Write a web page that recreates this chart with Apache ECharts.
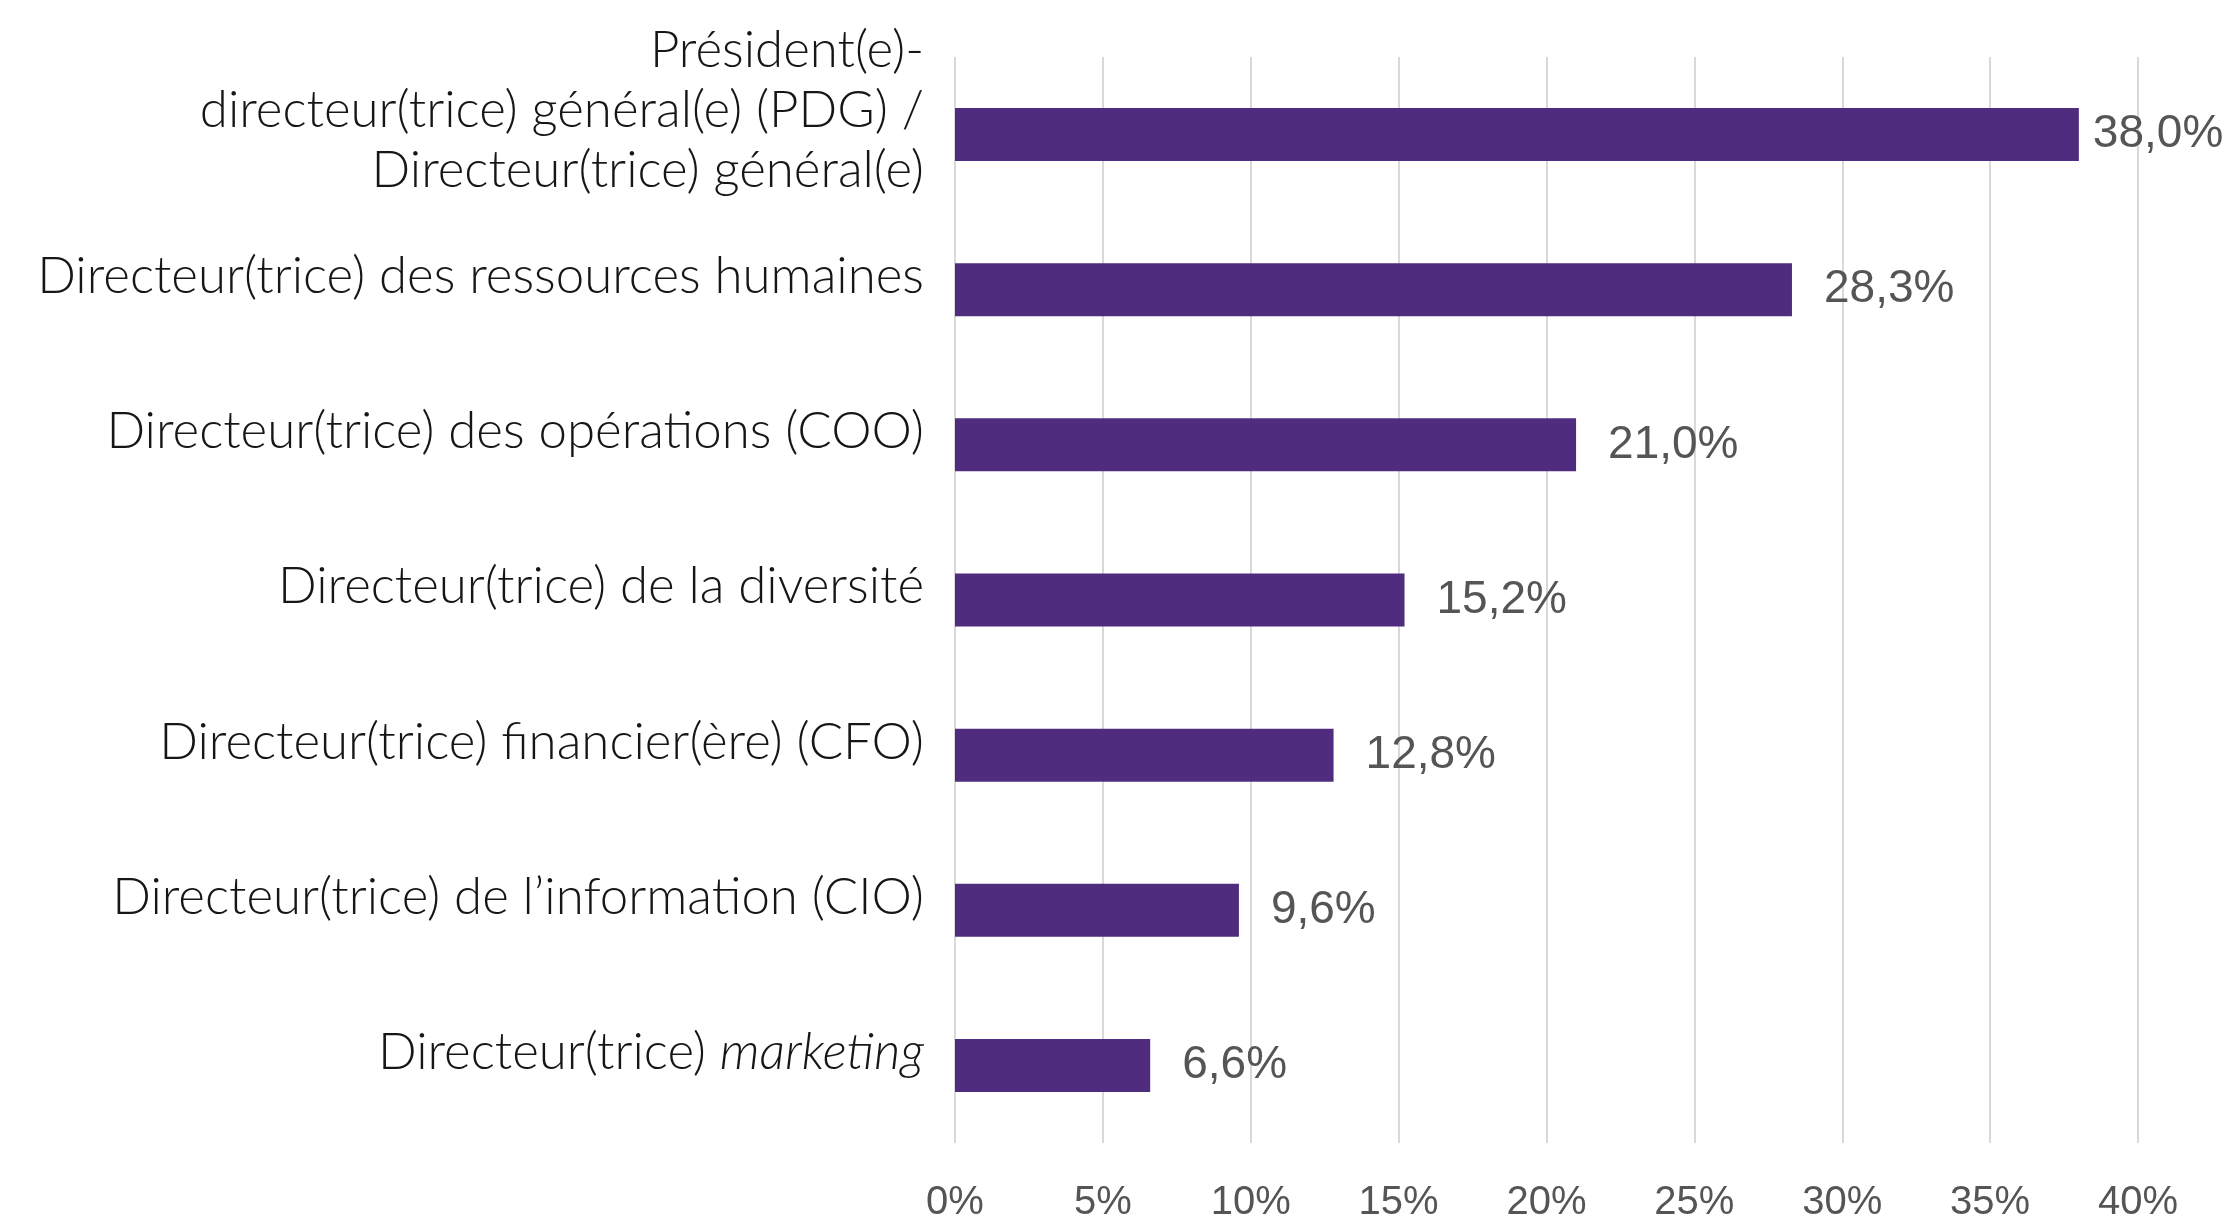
<!DOCTYPE html>
<html>
<head>
<meta charset="utf-8">
<style>
  html, body { margin: 0; padding: 0; background: #ffffff; }
  #chart { width: 2229px; height: 1223px; }
</style>
<script src="https://cdn.jsdelivr.net/npm/echarts@6/dist/echarts.min.js"></script>
</head>
<body>
<div id="chart"></div>
<script>
// Roles, top to bottom
const roles = [
  'Président(e)-\ndirecteur(trice) général(e) (PDG) /\nDirecteur(trice) général(e)',
  'Directeur(trice) des ressources humaines',
  'Directeur(trice) des opérations (COO)',
  'Directeur(trice) de la diversité',
  'Directeur(trice) financier(ère) (CFO)',
  'Directeur(trice) de l’information (CIO)',
  'Directeur(trice) marketing'
];
// Share of respondents, in percent
const shares = [38.0, 28.3, 21.0, 15.2, 12.8, 9.6, 6.6];
// Horizontal axis ticks, in percent
const tickMin = 0;
const tickMax = 40;
const tickStep = 5;

const fmtPct = v => v.toFixed(1).replace('.', ',') + '%';

const chart = echarts.init(document.getElementById('chart'));

const labelFont = 'Lato, "Noto Sans", sans-serif';

// Role label text: "marketing" in italics; multi-line labels get a short
// spacer line underneath so they sit a little higher than their bar.
function roleLabel(s) {
  let out = s.replace(/ marketing$/, ' {i|marketing}');
  if (s.indexOf('\n') >= 0) out += '\n{s| }';
  return out;
}

const barData = shares.map((v, i) => {
  const item = { value: v };
  // the longest bar runs close to the right edge, so its label sits tighter
  if (i === 0) item.label = { distance: 14 };
  return item;
});

chart.setOption({
  animation: false,
  backgroundColor: '#ffffff',
  grid: { left: 955, right: 91, top: 57, bottom: 79, containLabel: false },
  xAxis: {
    type: 'value',
    min: tickMin,
    max: tickMax,
    interval: tickStep,
    axisLine: { show: false },
    axisTick: { show: false },
    splitLine: { show: true, lineStyle: { color: '#d9d9d9', width: 2 } },
    axisLabel: {
      formatter: '{value}%',
      color: '#555555',
      fontFamily: '"Liberation Sans", Arial, sans-serif',
      fontSize: 40,
      margin: 40
    }
  },
  yAxis: {
    type: 'category',
    data: roles,
    inverse: true,
    axisLine: { show: false },
    axisTick: { show: false },
    splitLine: { show: false },
    axisLabel: {
      interval: 0,
      color: '#161616',
      fontFamily: labelFont,
      fontWeight: 300,
      fontSize: 51,
      lineHeight: 60,
      margin: 31,
      align: 'right',
      padding: [0, 0, 26, 0],
      formatter: roleLabel,
      rich: {
        i: {
          fontStyle: 'italic',
          fontWeight: 300,
          color: '#161616',
          fontFamily: labelFont,
          fontSize: 51,
          lineHeight: 60
        },
        s: {
          fontSize: 10,
          lineHeight: 22
        }
      }
    }
  },
  series: [{
    type: 'bar',
    data: barData,
    barWidth: 53,
    itemStyle: { color: '#4f2c7e' },
    label: {
      show: true,
      position: 'right',
      distance: 32,
      color: '#555555',
      fontFamily: '"Liberation Sans", Arial, sans-serif',
      fontSize: 46,
      formatter: p => fmtPct(p.value)
    }
  }]
});
</script>
</body>
</html>
